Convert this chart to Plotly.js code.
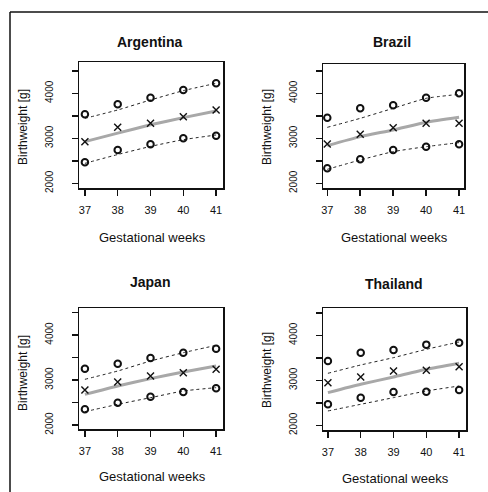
<!DOCTYPE html>
<html>
<head>
<meta charset="utf-8">
<script src="https://cdn.plot.ly/plotly-3.0.1.min.js"></script>
<style>
html,body{margin:0;padding:0;background:#fff;}
#chart{width:488px;height:492px;}
</style>
</head>
<body>
<div id="chart"></div>
<script>
// ---- data ----
const weeks = [37, 38, 39, 40, 41];
const countries = ["Argentina", "Brazil", "Japan", "Thailand"];

// observed points (circles = upper/lower, x = median)
const argUpperObs = [3533, 3756, 3904, 4074, 4222];
const argMedObs   = [2926, 3244, 3333, 3481, 3630];
const argLowerObs = [2467, 2741, 2867, 3000, 3059];
// reference curves
const argUpperRef = [3444, 3630, 3852, 4059, 4222];
const argMedRef   = [2926, 3115, 3300, 3460, 3607];
const argLowerRef = [2444, 2640, 2820, 2970, 3074];

const braUpperObs = [3459, 3667, 3733, 3904, 4000];
const braMedObs   = [2874, 3089, 3237, 3333, 3333];
const braLowerObs = [2333, 2533, 2741, 2815, 2867];
const braUpperRef = [3244, 3444, 3667, 3889, 3978];
const braMedRef   = [2837, 3037, 3185, 3356, 3467];
const braLowerRef = [2311, 2519, 2704, 2815, 2904];

const jpnUpperObs = [3252, 3363, 3489, 3607, 3696];
const jpnMedObs   = [2778, 2956, 3089, 3163, 3237];
const jpnLowerObs = [2348, 2496, 2630, 2733, 2815];
const jpnUpperRef = [3015, 3200, 3422, 3607, 3770];
const jpnMedRef   = [2681, 2867, 3030, 3178, 3311];
const jpnLowerRef = [2296, 2459, 2607, 2756, 2830];

const thaUpperObs = [3430, 3615, 3674, 3793, 3837];
const thaMedObs   = [2948, 3074, 3207, 3222, 3304];
const thaLowerObs = [2467, 2615, 2741, 2748, 2785];
const thaUpperRef = [3156, 3341, 3504, 3689, 3852];
const thaMedRef   = [2726, 2911, 3074, 3244, 3378];
const thaLowerRef = [2319, 2467, 2615, 2763, 2874];

const yTickVals = [2000, 2500, 3000, 3500, 4000, 4500];
const yTickText = ["2000", "", "3000", "", "4000", ""];
const xTitle = "Gestational weeks";
const yTitle = "Birthweight [g]";

const panels = [
  {obs: [argUpperObs, argMedObs, argLowerObs], ref: [argUpperRef, argMedRef, argLowerRef]},
  {obs: [braUpperObs, braMedObs, braLowerObs], ref: [braUpperRef, braMedRef, braLowerRef]},
  {obs: [jpnUpperObs, jpnMedObs, jpnLowerObs], ref: [jpnUpperRef, jpnMedRef, jpnLowerRef]},
  {obs: [thaUpperObs, thaMedObs, thaLowerObs], ref: [thaUpperRef, thaMedRef, thaLowerRef]}
];

// ---- layout geometry (pixels in a 488x492 page) ----
const W = 488, H = 492;
const boxes = [
  {l: 79,  r: 223, t: 62,  b: 188, xr: [36.82, 41.21], yr: [1896, 4696], tx: 150, ty: 42,  ayx: 23,  ayy: 127, axy: 237},
  {l: 323, r: 464, t: 64,  b: 188, xr: [36.87, 41.15], yr: [1896, 4652], tx: 392, ty: 42,  ayx: 267, ayy: 127, axy: 237},
  {l: 79,  r: 223, t: 308, b: 429, xr: [36.82, 41.21], yr: [1911, 4600], tx: 150, ty: 282, ayx: 23,  ayy: 373, axy: 476},
  {l: 323, r: 466, t: 308, b: 430, xr: [36.85, 41.21], yr: [1896, 4607], tx: 394, ty: 284, ayx: 267, ayy: 370, axy: 478}
];
const px = v => v / W;
const py = v => 1 - v / H;

const traces = [];
const layout = {
  width: W, height: H,
  margin: {l: 0, r: 0, t: 0, b: 0},
  paper_bgcolor: "#fff", plot_bgcolor: "#fff",
  showlegend: false,
  font: {family: "Liberation Sans, Arial, sans-serif", color: "#111"},
  annotations: [],
  shapes: [
    {type: "line", xref: "paper", yref: "paper", x0: px(10), x1: 1, y0: py(12), y1: py(12), line: {color: "#111", width: 1.5}},
    {type: "line", xref: "paper", yref: "paper", x0: px(10), x1: px(10), y0: py(12), y1: 0, line: {color: "#111", width: 1.5}}
  ]
};

panels.forEach((p, i) => {
  const n = i === 0 ? "" : String(i + 1);
  const xa = "x" + n, ya = "y" + n;
  const bx = boxes[i];
  // reference curves
  const refStyles = [
    {color: "#222", width: 1, dash: "dot"},
    {color: "#a8a8a8", width: 3, dash: "solid"},
    {color: "#222", width: 1, dash: "dot"}
  ];
  p.ref.forEach((vals, k) => {
    traces.push({x: weeks, y: vals, xaxis: xa, yaxis: ya, type: "scatter", mode: "lines",
      line: Object.assign({shape: "spline", smoothing: 0.5}, refStyles[k]), hoverinfo: "skip"});
  });
  // observed points
  p.obs.forEach((vals, k) => {
    const isMed = k === 1;
    traces.push({x: weeks, y: vals, xaxis: xa, yaxis: ya, type: "scatter", mode: "markers",
      marker: isMed
        ? {symbol: "x-thin-open", size: 7, color: "#111", line: {color: "#111", width: 1.4}}
        : {symbol: "circle-open", size: 6.5, color: "#111", line: {color: "#111", width: 2}}});
  });
  layout["xaxis" + n] = {
    domain: [px(bx.l), px(bx.r)], range: bx.xr, anchor: ya,
    tickvals: weeks, ticktext: weeks.map(String),
    ticks: "outside", ticklen: 6, tickwidth: 1.5, tickcolor: "#111",
    showline: true, mirror: true, linecolor: "#111", linewidth: 1.5,
    showgrid: false, zeroline: false, fixedrange: true,
    tickfont: {size: 11, color: "#111"}, ticklabelstandoff: 5
  };
  layout["yaxis" + n] = {
    domain: [py(bx.b), py(bx.t)], range: bx.yr, anchor: xa,
    tickvals: yTickVals, ticktext: yTickText, tickangle: -90,
    ticks: "outside", ticklen: 6, tickwidth: 1.5, tickcolor: "#111",
    showline: true, mirror: true, linecolor: "#111", linewidth: 1.5,
    showgrid: false, zeroline: false, fixedrange: true,
    tickfont: {size: 10, color: "#111"}, ticklabelstandoff: 15
  };
  layout.annotations.push(
    {text: "<b>" + countries[i] + "</b>", xref: "paper", yref: "paper", x: px(bx.tx), y: py(bx.ty),
     xanchor: "center", yanchor: "middle", showarrow: false, font: {size: 14, color: "#111"}},
    {text: xTitle, xref: "paper", yref: "paper", x: px((bx.l + bx.r) / 2 + 1), y: py(bx.axy),
     xanchor: "center", yanchor: "middle", showarrow: false, font: {size: 13, color: "#111"}},
    {text: yTitle, xref: "paper", yref: "paper", x: px(bx.ayx), y: py(bx.ayy), textangle: -90,
     xanchor: "center", yanchor: "middle", showarrow: false, font: {size: 12, color: "#111"}}
  );
});

Plotly.newPlot("chart", traces, layout, {displayModeBar: false, staticPlot: true});
</script>
</body>
</html>
